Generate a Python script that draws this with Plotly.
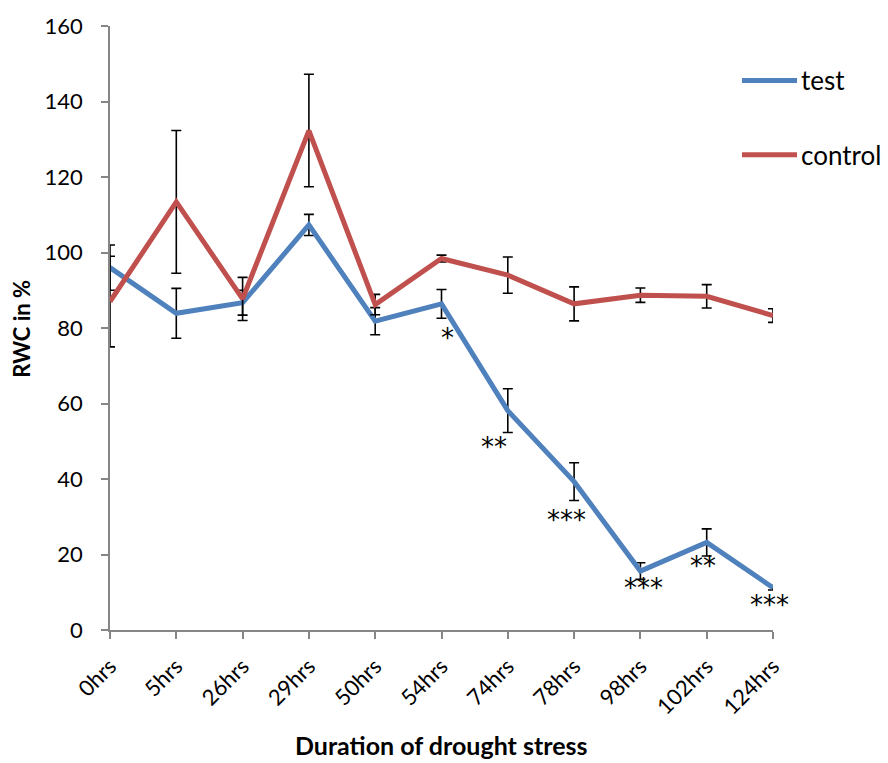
import plotly.graph_objects as go

categories = ["0hrs", "5hrs", "26hrs", "29hrs", "50hrs", "54hrs", "74hrs", "78hrs", "98hrs", "102hrs", "124hrs"]
test = [96.0, 83.9, 86.7, 107.3, 81.8, 86.4, 58.1, 39.3, 15.6, 23.2, 11.2]
test_err = [6.0, 6.6, 3.3, 2.8, 3.6, 3.8, 5.8, 5.0, 2.2, 3.6, 0.6]
control = [87.0, 113.4, 87.7, 132.3, 86.2, 98.4, 94.0, 86.4, 88.7, 88.4, 83.3]
control_err = [12.0, 18.9, 5.7, 14.9, 2.7, 0.9, 4.8, 4.5, 1.9, 3.1, 1.8]

# significance marks for the test series (category, label, pixel offset from point)
sig_cats = ["54hrs", "74hrs", "78hrs", "98hrs", "102hrs", "124hrs"]
sig_labels = ["*", "**", "***", "***", "**", "***"]
sig_dx = [6, -14, -8, 3, -4, -4]
sig_dy = [-33, -35, -37, -16, -23, -16]

BLUE = "#4F81BD"
RED = "#C0504D"
GRAY = "#868686"
FONT = "Lato"

fig = go.Figure()
fig.add_trace(go.Scatter(
    x=categories, y=test, mode="lines", name="test",
    line=dict(color=BLUE, width=5),
    error_y=dict(type="data", array=test_err, color="black", thickness=1.6, width=5),
))
fig.add_trace(go.Scatter(
    x=categories, y=control, mode="lines", name="control",
    line=dict(color=RED, width=5),
    error_y=dict(type="data", array=control_err, color="black", thickness=1.6, width=5),
))

annotations = []
for c, lab, dx, dy in zip(sig_cats, sig_labels, sig_dx, sig_dy):
    annotations.append(dict(
        x=c, y=test[categories.index(c)], xref="x", yref="y", text=lab,
        showarrow=False, xshift=dx, yshift=dy - 1,
        font=dict(family="DejaVu Sans", size=26, color="black"),
        xanchor="center", yanchor="middle",
    ))

# axis titles
annotations.append(dict(
    x=(441 - 110) / 663, y=-0.19, xref="paper", yref="paper",
    text="<b>Duration of drought stress</b>", showarrow=False,
    font=dict(family=FONT, size=25, color="black"), xanchor="center", yanchor="middle",
))
annotations.append(dict(
    x=-0.133, y=(630 - 326) / 610, xref="paper", yref="paper",
    text="<b>RWC in %</b>", showarrow=False, textangle=-90,
    font=dict(family=FONT, size=22, color="black"), xanchor="center", yanchor="middle",
))

# manual legend
shapes = []
legend_items = [("test", BLUE, (630 - 75) / 610), ("control", RED, (630 - 150) / 610)]
for name, col, yy in legend_items:
    shapes.append(dict(type="line", xref="paper", yref="paper",
                       x0=(742 - 110) / 663, x1=(797 - 110) / 663, y0=yy, y1=yy,
                       line=dict(color=col, width=5)))
    annotations.append(dict(x=(799 - 110) / 663, y=yy, xref="paper", yref="paper",
                            text=name, showarrow=False, xanchor="left", yanchor="middle",
                            font=dict(family=FONT, size=26, color="black")))

fig.update_layout(
    width=888, height=763,
    margin=dict(l=110, r=115, t=20, b=133),
    paper_bgcolor="white", plot_bgcolor="white",
    showlegend=False,
    font=dict(family=FONT, size=22, color="black"),
    annotations=annotations, shapes=shapes,
)
fig.update_xaxes(
    type="category", range=[0, 10], showgrid=False, zeroline=False,
    showline=True, linecolor=GRAY, linewidth=1.5,
    ticks="outside", ticklen=7, tickcolor=GRAY, tickwidth=1.5,
    tickangle=-45, tickfont=dict(family=FONT, size=22, color="black"),
    ticklabelstandoff=6,
)
fig.update_yaxes(
    range=[0, 160], dtick=20, showgrid=False, zeroline=False,
    showline=True, linecolor=GRAY, linewidth=1.5,
    ticks="outside", ticklen=7, tickcolor=GRAY, tickwidth=1.5,
    tickfont=dict(family=FONT, size=22, color="black"),
    ticklabelstandoff=14,
)

fig.write_html("out.html")
